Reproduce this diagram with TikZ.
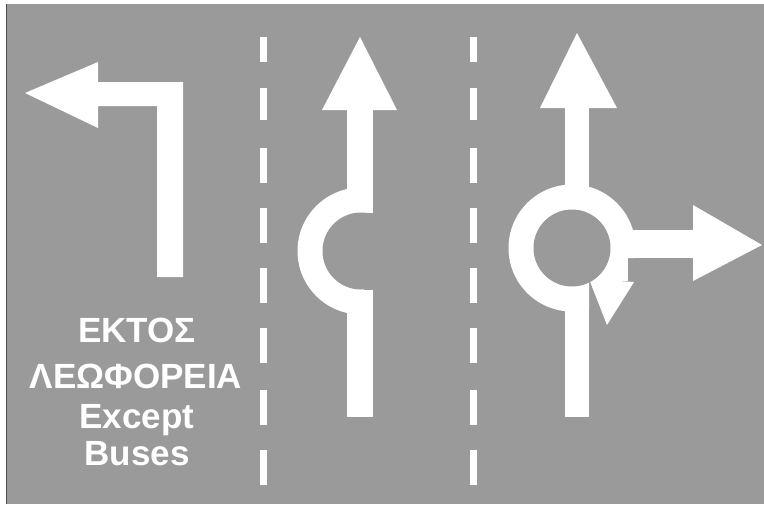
\documentclass[tikz,border=0pt]{standalone}
\usepackage{fontspec}
\setmainfont{Liberation Sans}
\definecolor{road}{HTML}{9A9A9A}
\begin{document}
\begin{tikzpicture}[x=1pt,y=-1pt,
  paint/.style={fill=white},
  hole/.style={fill=road},
  lbl/.style={text=white,font=\fontsize{35}{40}\selectfont\bfseries,inner sep=0pt,anchor=base}]
\useasboundingbox (0,0) rectangle (764,504);
\fill[white] (0,0) rectangle (764,504);
\fill[road] (6,4) rectangle (764,504);
\draw[black!70,line width=1pt] (6,504) -- (6,4);
% left turn arrow
\fill[paint] (25,93) -- (98,62) -- (98,82) -- (183,82) -- (183,277) -- (157,277) -- (157,106) -- (98,106) -- (98,128) -- cycle;
% dashed lane lines
\foreach \a/\b in {37/62,88/120,148/183,208/243,268/303,328/363,390/425,450/485}{
  \fill[paint] (260,\a) rectangle (267,\b);
  \fill[paint] (470,\a) rectangle (477,\b);
}
% middle arrow with half ring
\fill[paint] (360,37) -- (397,110) -- (322,110) -- cycle;
\fill[paint] (347,109) rectangle (373,212.5);
\fill[paint] (347,289.5) rectangle (373,417);
\begin{scope}
  \clip (290,150) rectangle (364,330);
  \fill[paint] (361,251) circle[radius=63.5];
\end{scope}
\fill[hole] (361,251) circle[radius=38.5];
% right arrow with roundabout
\fill[paint] (577,33) -- (617,108) -- (540,108) -- cycle;
\fill[paint] (565,107) rectangle (589,417);
\begin{scope}
  \clip (500,170) rectangle (764,258) (500,257) rectangle (589,330);
  \fill[paint] (572,248) circle[radius=63.5];
\end{scope}
\fill[paint] (620,230) rectangle (694,258);
\fill[paint] (693,205) -- (762,245) -- (693,281) -- cycle;
\fill[paint] (588,257) -- (628,257) -- (628,281) -- (588,281) -- cycle;
\fill[paint] (589,279) -- (634,282) -- (607,325) -- cycle;
\fill[hole] (572,248) circle[radius=38.5];
% text
\node[lbl] (t1) at (137,342) {ΕΚΤΟΣ};
\node[lbl] (t2) at (136,388) {ΛΕΩΦΟΡΕΙΑ};
\node[lbl] (t3) at (137,428) {Except};
\node[lbl] (t4) at (137,465) {Buses};
\end{tikzpicture}
\end{document}
